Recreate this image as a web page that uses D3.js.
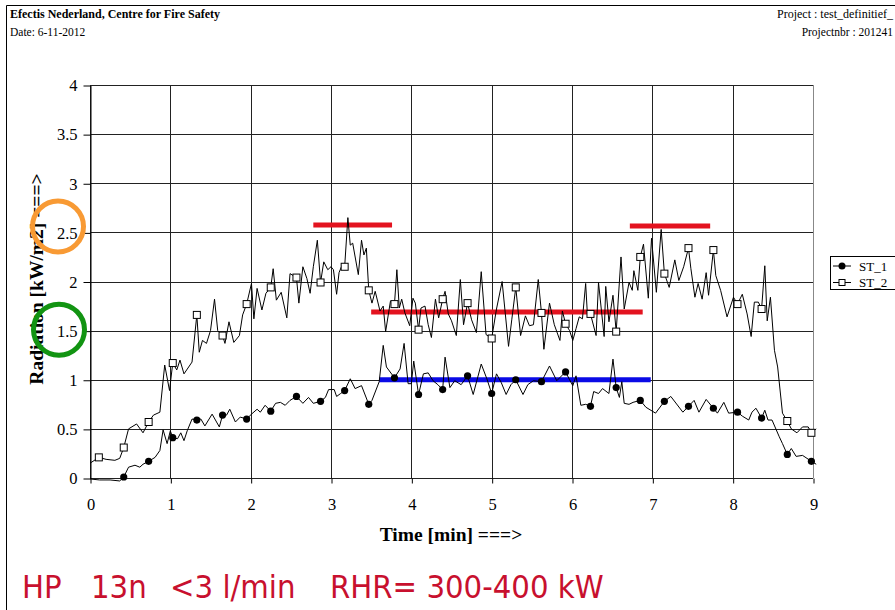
<!DOCTYPE html>
<html>
<head>
<meta charset="utf-8">
<script src="https://cdn.jsdelivr.net/npm/d3@7"></script>
<style>
body { margin: 0; background: #fff; }
text { font-family: "Liberation Serif", "Times New Roman", serif; }
</style>
</head>
<body>
<svg id="graph"></svg>
<script>
// time [min] and radiation [kW/m2]
var st1Time = [0.0,0.12,0.25,0.37,0.42,0.48,0.56,0.62,0.66,0.73,0.81,0.87,0.91,0.96,1.00,1.03,1.09,1.13,1.17,1.21,1.27,1.33,1.38,1.43,1.52,1.61,1.65,1.70,1.74,1.81,1.87,1.95,2.01,2.08,2.12,2.18,2.25,2.31,2.37,2.43,2.49,2.57,2.65,2.72,2.78,2.87,2.93,2.97,3.04,3.07,3.12,3.17,3.24,3.30,3.38,3.47,3.51,3.60,3.65,3.69,3.79,3.86,3.91,3.96,4.00,4.03,4.09,4.15,4.21,4.27,4.33,4.39,4.42,4.48,4.54,4.62,4.70,4.77,4.87,4.94,5.00,5.06,5.12,5.18,5.24,5.30,5.39,5.45,5.52,5.62,5.72,5.81,5.92,5.97,6.01,6.05,6.11,6.17,6.23,6.27,6.33,6.38,6.46,6.51,6.55,6.59,6.62,6.65,6.71,6.76,6.85,6.92,7.04,7.15,7.23,7.38,7.45,7.52,7.58,7.67,7.76,7.81,7.89,7.95,8.06,8.12,8.20,8.24,8.29,8.36,8.40,8.44,8.49,8.58,8.62,8.68,8.73,8.79,8.87,8.98,9.04];
var st1Vals = [-0.01,-0.02,-0.02,-0.03,0.01,0.11,0.13,0.11,0.14,0.17,0.21,0.28,0.49,0.35,0.48,0.41,0.40,0.46,0.38,0.48,0.60,0.59,0.60,0.53,0.65,0.52,0.64,0.64,0.70,0.57,0.62,0.60,0.65,0.70,0.67,0.74,0.68,0.76,0.77,0.74,0.79,0.83,0.76,0.82,0.76,0.78,0.82,0.90,0.90,0.83,0.86,0.89,1.01,0.91,0.94,0.75,0.79,0.98,1.35,1.13,1.02,1.11,1.37,0.96,0.96,1.19,0.85,1.06,1.07,0.99,0.95,0.90,1.23,0.92,0.99,0.95,1.04,0.85,1.16,1.01,0.86,1.06,0.97,0.85,0.95,1.00,0.85,0.95,0.99,0.98,1.14,0.99,1.08,1.00,0.94,1.04,0.74,0.75,0.73,0.88,0.86,0.91,0.86,1.21,0.92,0.82,0.98,0.76,0.75,0.77,0.79,0.72,0.66,0.78,0.83,0.67,0.73,0.79,0.67,0.80,0.71,0.66,0.77,0.66,0.67,0.63,0.59,0.67,0.71,0.61,0.69,0.59,0.59,0.42,0.35,0.24,0.30,0.22,0.23,0.17,0.14];

var st2Time = [0.0,0.11,0.20,0.31,0.37,0.42,0.48,0.58,0.66,0.73,0.79,0.87,0.93,0.99,1.03,1.08,1.12,1.17,1.27,1.33,1.36,1.40,1.45,1.50,1.55,1.59,1.65,1.68,1.73,1.79,1.86,1.90,1.95,2.01,2.04,2.08,2.14,2.19,2.25,2.28,2.32,2.38,2.45,2.49,2.57,2.60,2.65,2.70,2.74,2.78,2.83,2.87,2.91,2.96,3.00,3.03,3.07,3.10,3.14,3.17,3.21,3.24,3.27,3.34,3.38,3.41,3.44,3.47,3.51,3.55,3.61,3.65,3.68,3.74,3.79,3.82,3.85,3.88,3.92,3.98,4.02,4.05,4.09,4.12,4.17,4.21,4.25,4.30,4.34,4.39,4.42,4.46,4.50,4.56,4.61,4.65,4.70,4.75,4.81,4.87,4.93,5.00,5.06,5.13,5.21,5.25,5.30,5.36,5.42,5.47,5.52,5.58,5.62,5.65,5.72,5.78,5.85,5.88,5.92,5.97,6.01,6.05,6.09,6.13,6.17,6.19,6.23,6.30,6.33,6.40,6.42,6.46,6.51,6.55,6.61,6.65,6.71,6.75,6.77,6.82,6.85,6.89,6.95,6.99,7.05,7.11,7.15,7.21,7.28,7.33,7.39,7.45,7.48,7.53,7.57,7.62,7.67,7.70,7.76,7.79,7.85,7.93,8.01,8.06,8.12,8.18,8.23,8.27,8.32,8.36,8.40,8.43,8.47,8.52,8.56,8.62,8.68,8.73,8.80,8.87,8.94,8.98,9.04];
var st2Vals = [0.15,0.21,0.19,0.18,0.20,0.31,0.50,0.55,0.46,0.57,0.64,0.67,1.15,0.89,1.17,1.10,1.20,1.06,1.18,1.66,1.28,1.40,1.37,1.50,1.82,1.50,1.45,1.37,1.59,1.38,1.45,1.66,1.77,1.98,1.62,1.93,1.71,1.88,1.94,2.13,1.81,1.89,1.63,2.08,2.04,1.78,2.15,2.03,1.88,2.15,2.42,1.99,2.20,2.12,2.15,2.12,1.87,2.09,2.17,2.15,2.65,2.37,2.39,2.07,2.42,2.27,2.34,1.91,1.78,1.90,1.70,1.75,1.49,1.80,1.77,2.12,1.73,1.82,1.68,1.55,1.83,1.78,1.51,1.73,1.75,1.56,1.43,1.82,1.63,1.82,1.90,1.67,1.60,1.45,2.02,1.56,1.78,1.61,1.48,2.10,1.46,1.42,1.72,2.00,1.34,1.61,1.94,1.45,1.65,1.55,1.56,2.02,1.68,1.31,1.78,1.56,1.40,1.70,1.57,1.50,1.40,1.52,1.64,1.62,1.98,1.69,1.67,1.45,1.99,1.44,1.95,1.59,1.86,1.49,2.25,1.72,1.99,1.91,2.11,1.91,2.25,2.38,1.83,2.44,1.89,2.53,2.08,1.94,2.22,2.01,2.15,2.34,2.13,1.84,1.98,1.82,2.09,1.86,2.32,2.06,1.91,1.64,1.84,1.77,1.87,1.67,1.44,1.79,1.79,1.72,2.16,1.60,1.84,1.30,1.13,0.66,0.58,0.50,0.46,0.52,0.52,0.46,0.50];

// samples that carry a marker
var markerTimes = [0.11,0.42,0.73,1.03,1.33,1.65,1.95,2.25,2.57,2.87,3.17,3.47,3.79,4.09,4.39,4.70,5.00,5.30,5.62,5.92,6.23,6.55,6.85,7.15,7.45,7.76,8.06,8.36,8.68,8.98];

var xTicks = [0,1,2,3,4,5,6,7,8,9];
var yTicks = [0,0.5,1,1.5,2,2.5,3,3.5,4];
var yTickLabels = ["0","0.5","1","1.5","2","2.5","3","3.5","4"];

// drawn level bars: [from, to, level]
var redLevels = [[2.78,3.76,2.575],[3.50,6.88,1.69],[6.72,7.72,2.565]];
var blueLevels = [[3.60,6.98,1.0]];

var seriesNames = ["ST_1","ST_2"];

var screen = {width: 895, height: 610};
var plot = {left: 90, right: 813, top: 85, bottom: 478};

var svg = d3.select("#graph")
    .attr("width", screen.width)
    .attr("height", screen.height);

svg.append("rect").attr("width", screen.width).attr("height", screen.height).attr("fill", "#fff");

var xScale = d3.scaleLinear().domain([0, 9]).range([plot.left, plot.right]);
var yScale = d3.scaleLinear().domain([0, 4]).range([plot.bottom, plot.top]);

// page frame
svg.append("line").attr("x1", 6.5).attr("y1", 5.5).attr("x2", screen.width).attr("y2", 5.5).attr("stroke", "#000");
svg.append("line").attr("x1", 6.5).attr("y1", 5.5).attr("x2", 6.5).attr("y2", screen.height).attr("stroke", "#000");

// header
svg.append("text").attr("x", 10).attr("y", 18).attr("font-size", 12).attr("font-weight", "bold")
    .text("Efectis Nederland, Centre for Fire Safety");
svg.append("text").attr("x", 10).attr("y", 36).attr("font-size", 11.5).text("Date: 6-11-2012");
svg.append("text").attr("x", 893).attr("y", 18).attr("font-size", 12).attr("text-anchor", "end")
    .text("Project : test_definitief_");
svg.append("text").attr("x", 893).attr("y", 36).attr("font-size", 11.5).attr("text-anchor", "end")
    .text("Projectnbr : 201241");

// grid
svg.append("g").selectAll("line").data(yTicks).enter().append("line")
    .attr("x1", plot.left).attr("x2", plot.right)
    .attr("y1", function(d) { return Math.round(yScale(d)) + 0.5; })
    .attr("y2", function(d) { return Math.round(yScale(d)) + 0.5; })
    .attr("stroke", "#222").attr("stroke-width", 1);
svg.append("g").selectAll("line").data(xTicks).enter().append("line")
    .attr("x1", function(d) { return Math.round(xScale(d)) + 0.5; })
    .attr("x2", function(d) { return Math.round(xScale(d)) + 0.5; })
    .attr("y1", plot.top).attr("y2", plot.bottom)
    .attr("stroke", function(d) { return d == 9 ? "#888" : "#222"; }).attr("stroke-width", 1);

// axes
var yAxis = d3.axisLeft(yScale).tickValues(yTicks).tickSize(7).tickSizeOuter(0)
    .tickFormat(function(d, i) { return yTickLabels[i]; });
var gy = svg.append("g").attr("transform", "translate(" + (plot.left + 0.5) + ",0.5)").call(yAxis);
gy.selectAll("text").style("font-family", "'Liberation Serif', serif").style("font-size", "16.5px")
    .attr("x", -13).attr("fill", "#000");

var xAxis = d3.axisBottom(xScale).tickValues(xTicks).tickSize(5).tickSizeOuter(0);
var gx = svg.append("g").attr("transform", "translate(0.5," + (plot.bottom + 0.5) + ")").call(xAxis);
gx.selectAll("text").style("font-family", "'Liberation Serif', serif").style("font-size", "16.5px")
    .attr("y", 20).attr("fill", "#000");
gx.select(".domain").remove();
svg.selectAll(".domain").attr("stroke", "#000");

// axis titles
svg.append("text").attr("x", 451).attr("y", 541).attr("text-anchor", "middle")
    .attr("font-size", 19.5).attr("font-weight", "bold").text("Time [min] ===>");
svg.append("text").attr("transform", "translate(43,279) rotate(-90)").attr("text-anchor", "middle")
    .attr("font-size", 19.5).attr("font-weight", "bold").text("Radiation [kW/m2] ===>");

// level bars
var levelBar = function(levels, color)
{
    svg.append("g").selectAll("line").data(levels).enter().append("line")
        .attr("x1", function(d) { return xScale(d[0]); })
        .attr("x2", function(d) { return xScale(d[1]); })
        .attr("y1", function(d) { return yScale(d[2]); })
        .attr("y2", function(d) { return yScale(d[2]); })
        .attr("stroke", color).attr("stroke-width", 5);
}
levelBar(redLevels, "#e3131f");
levelBar(blueLevels, "#0a0ae6");

// series
var pairs = function(times, vals)
{
    return times.map(function(t, i) { return [t, vals[i]]; });
}
var st1 = pairs(st1Time, st1Vals);
var st2 = pairs(st2Time, st2Vals);
var isMarked = function(d) { return markerTimes.indexOf(d[0]) >= 0; };

var line = d3.line().x(function(d) { return xScale(d[0]); }).y(function(d) { return yScale(d[1]); });

svg.append("path").datum(st2).attr("d", line).attr("fill", "none").attr("stroke", "#000").attr("stroke-width", 1);
svg.append("path").datum(st1).attr("d", line).attr("fill", "none").attr("stroke", "#000").attr("stroke-width", 1);

svg.append("g").selectAll("circle").data(st1.filter(isMarked)).enter().append("circle")
    .attr("cx", function(d) { return xScale(d[0]); })
    .attr("cy", function(d) { return yScale(d[1]); })
    .attr("r", 3.6).attr("fill", "#000");

svg.append("g").selectAll("rect").data(st2.filter(isMarked)).enter().append("rect")
    .attr("x", function(d) { return xScale(d[0]) - 3.5; })
    .attr("y", function(d) { return yScale(d[1]) - 3.5; })
    .attr("width", 7).attr("height", 7)
    .attr("fill", "#fff").attr("stroke", "#000").attr("stroke-width", 1);

// legend
var legend = svg.append("g");
legend.append("rect").attr("x", 830.5).attr("y", 256.5).attr("width", 80).attr("height", 33)
    .attr("fill", "#fff").attr("stroke", "#000");
seriesNames.forEach(function(name, i)
{
    var y = 266 + i * 16.5;
    legend.append("line").attr("x1", 833).attr("x2", 851).attr("y1", y).attr("y2", y).attr("stroke", "#000");
    if (i == 0)
        legend.append("circle").attr("cx", 842).attr("cy", y).attr("r", 3.5).attr("fill", "#000");
    else
        legend.append("rect").attr("x", 839).attr("y", y - 3).attr("width", 6).attr("height", 6)
            .attr("fill", "#fff").attr("stroke", "#000");
    legend.append("text").attr("x", 859).attr("y", y + 4.5).attr("font-size", 13).text(name);
});

// highlight rings on the y axis
svg.append("circle").attr("cx", 58).attr("cy", yScale(2.56)).attr("r", 25.5)
    .attr("fill", "none").attr("stroke", "#f89a34").attr("stroke-width", 5);
svg.append("circle").attr("cx", 59).attr("cy", yScale(1.51)).attr("r", 25.5)
    .attr("fill", "none").attr("stroke", "#129412").attr("stroke-width", 5);

// note
var note = svg.append("text").attr("y", 598).attr("fill", "#c8102e").attr("font-size", 32.5)
    .style("font-family", "'DejaVu Sans Condensed', 'DejaVu Sans'").style("font-stretch", "condensed");
[["HP", 22], ["13n", 91], ["<3 l/min", 170], ["RHR= 300-400 kW", 330]].forEach(function(w)
{
    note.append("tspan").attr("x", w[1]).text(w[0]);
});
</script>
</body>
</html>
